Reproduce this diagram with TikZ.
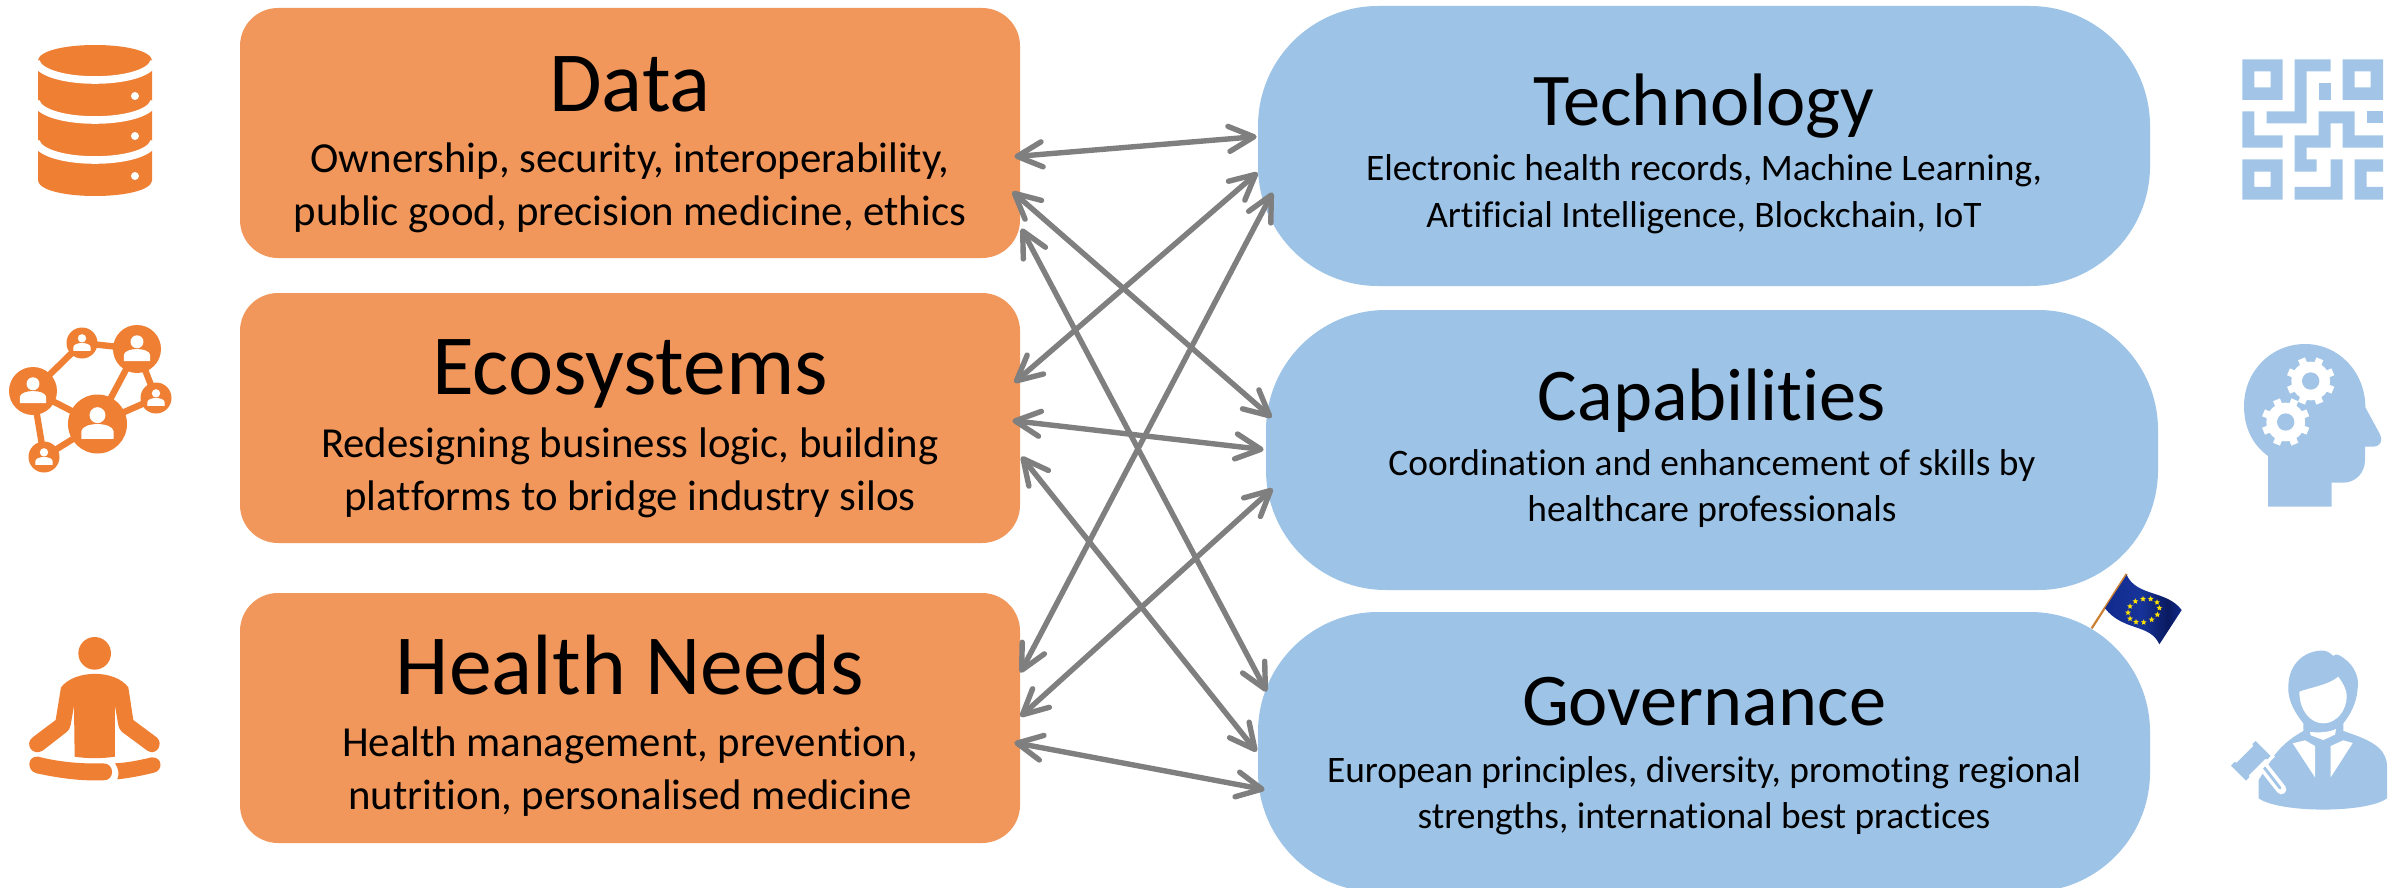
\documentclass[tikz,border=0pt]{standalone}
\usepackage{fontspec}
\setmainfont[Ligatures={NoCommon}]{Carlito}
\usetikzlibrary{arrows.meta,shapes.geometric}
\definecolor{boxorange}{HTML}{F2975B}
\definecolor{iconorange}{HTML}{EE7F33}
\definecolor{boxblue}{HTML}{9DC3E6}
\definecolor{iconblue}{HTML}{A2C5E7}
\definecolor{linkgray}{HTML}{7F7F7F}
\definecolor{flagA}{HTML}{112A8C}
\definecolor{flagB}{HTML}{17349A}
\definecolor{flagC}{HTML}{0A1A60}
\pgfdeclarehorizontalshading{flagshade}{100bp}{color(0bp)=(flagA);color(25bp)=(flagA);color(48bp)=(flagB);color(66bp)=(flagC);color(75bp)=(flagA);color(100bp)=(flagA)}
\tikzset{
  obox/.style={fill=boxorange,rounded corners=19pt,minimum width=390pt,minimum height=125pt,inner sep=0pt},
  bbox/.style={fill=boxblue,rounded corners=60pt,minimum width=446pt,minimum height=140pt,inner sep=0pt},
  otitle/.style={anchor=base,inner sep=0pt,font=\fontsize{42.8}{42.8}\selectfont},
  obody/.style={anchor=base,inner sep=0pt,font=\fontsize{21.4}{21.4}\selectfont},
  btitle/.style={anchor=base,inner sep=0pt,font=\fontsize{37.2}{37.2}\selectfont},
  bbody/.style={anchor=base,inner sep=0pt,font=\fontsize{18.7}{18.7}\selectfont},
  link/.style={draw=linkgray,line width=2.7pt,{Straight Barb[round,length=12.5pt,width=12.5pt]}-{Straight Barb[round,length=12.5pt,width=12.5pt]}},
}
\begin{document}
\begin{tikzpicture}[x=0.5pt,y=-0.5pt]
\clip (0,0) rectangle (2402,888);
% boxes
\node[obox] (data) at (630,133) {};
\node[obox] (eco) at (630,418) {};
\node[obox] (hn) at (630,718) {};
\node[bbox] (tech) at (1704,146) {};
\node[bbox] (cap) at (1712,450) {};
\node[bbox] (gov) at (1704,752) {};
% texts
\node[otitle] (t1) at (630,112) {Data};
\node[obody] (b1a) at (630,172) {Ownership, security, interoperability,};
\node[obody] (b1b) at (630,225) {public good, precision medicine, ethics};
\node[otitle] (t2) at (630,394) {Ecosystems};
\node[obody] (b2a) at (630,457) {Redesigning business logic, building};
\node[obody] (b2b) at (630,510) {platforms to bridge industry silos};
\node[otitle] (t3) at (630,694) {Health Needs};
\node[obody] (b3a) at (630,756) {Health management, prevention,};
\node[obody] (b3b) at (630,809) {nutrition, personalised medicine};
\node[btitle] (t4) at (1704,126) {Technology};
\node[bbody] (b4a) at (1704,180) {Electronic health records, Machine Learning,};
\node[bbody] (b4b) at (1704,227) {Artificial Intelligence, Blockchain, IoT};
\node[btitle] (t5) at (1712,420) {Capabilities};
\node[bbody] (b5a) at (1712,475) {Coordination and enhancement of skills by};
\node[bbody] (b5b) at (1712,521) {healthcare professionals};
\node[btitle] (t6) at (1704,725) {Governance};
\node[bbody] (b6a) at (1704,782) {European principles, diversity, promoting regional};
\node[bbody] (b6b) at (1704,828) {strengths, international best practices};
% connectors
\draw[link] ([shift={(-6,149)}]data.north east) -- ([shift={(-1,131)}]tech.north west);
\draw[link] ([shift={(-8,184)}]data.north east) -- ([shift={(6,108)}]cap.north west);
\draw[link] ([shift={(1,221)}]data.north east) -- ([shift={(9,80)}]gov.north west);
\draw[link] ([shift={(-6,90)}]eco.north east) -- ([shift={(0,167)}]tech.north west);
\draw[link] ([shift={(-8,128)}]eco.north east) -- ([shift={(-2,140)}]cap.north west);
\draw[link] ([shift={(1,164)}]eco.north east) -- ([shift={(-1,140)}]gov.north west);
\draw[link] ([shift={(0,80)}]hn.north east) -- ([shift={(15,187)}]tech.north west);
\draw[link] ([shift={(0,124)}]hn.north east) -- ([shift={(7,179)}]cap.north west);
\draw[link] ([shift={(-6,150)}]hn.north east) -- ([shift={(7,178)}]gov.north west);
% database icon
\fill[iconorange] (38,60) -- (38,181) .. controls (42,201) and (148,201) .. (152,181) -- (152,60) .. controls (148,40) and (42,40) .. (38,60) -- cycle;
\foreach \yy in {62,102,142}{
  \draw[white,line width=3.8pt] (36,{\yy}) .. controls (45,{\yy+24}) and (145,{\yy+24}) .. (154,{\yy});
}
\foreach \yy in {96,136,176}{\fill[white] (135,{\yy}) circle (4);}
% network icon
\foreach \ax/\ay/\bx/\by in {33/391/82/343,82/343/137/349,137/349/156/398,137/349/97/424,33/391/97/424,33/391/44/457,44/457/97/424,156/398/97/424}{
  \draw[iconorange,line width=3.2pt] (\ax,\ay) -- (\bx,\by);
}
\foreach \cx/\cy/\R in {97.5/424/29.5,137/349/24,33/391/24,82/343/15.5,156/398/15.5,44/457/15.5}{
  \fill[iconorange] (\cx,\cy) circle (\R);
  \fill[white] ({\cx},{\cy-0.3*\R}) circle ({0.27*\R});
  \fill[white] ({\cx-0.55*\R},{\cy+0.5*\R}) -- ({\cx-0.55*\R},{\cy+0.25*\R}) .. controls ({\cx-0.5*\R},{\cy-0.08*\R}) and ({\cx+0.5*\R},{\cy-0.08*\R}) .. ({\cx+0.55*\R},{\cy+0.25*\R}) -- ({\cx+0.55*\R},{\cy+0.5*\R}) -- cycle;
}
% meditating person
\begin{scope}[shift={(0,600)},scale=1/3]
\fill[iconorange] (284,160) circle (49);
\fill[iconorange] (183,262) .. controls (225,208) and (345,208) .. (385,262) -- (400,360) -- (470,412) .. controls (492,430) and (470,470) .. (442,452) -- (365,395) .. controls (358,388) and (357,382) .. (355,375) -- (345,318) -- (345,470) .. controls (305,476) and (262,476) .. (224,470) -- (222,318) -- (212,375) .. controls (210,385) and (206,392) .. (200,396) -- (128,452) .. controls (98,470) and (72,432) .. (98,412) -- (167,360) -- cycle;
\fill[iconorange] (115,470) .. controls (180,487) and (250,492) .. (310,490) .. controls (345,490) and (345,542) .. (310,541) .. controls (240,543) and (180,535) .. (110,520) .. controls (78,512) and (82,466) .. (115,470) -- cycle;
\fill[iconorange] (345,490) .. controls (385,488) and (420,480) .. (455,472) .. controls (488,470) and (490,512) .. (462,518) .. controls (425,527) and (390,534) .. (352,538) .. controls (358,522) and (356,505) .. (345,490) -- cycle;
\end{scope}
% QR icon
\begin{scope}[shift={(2180,40)},scale=1/3,even odd rule]
\fill[iconblue] (187,58) rectangle (308,180) (223,94) rectangle (272,142);
\fill[iconblue] (488,58) rectangle (609,180) (524,94) rectangle (572,142);
\fill[iconblue] (187,358) rectangle (308,479) (223,395) rectangle (272,441);
\fill[iconblue] (344,58) -- (452,58) -- (452,94) -- (380,94) -- (380,250) -- (260,250) -- (260,214) -- (344,214) -- cycle;
\fill[iconblue] (416,130) rectangle (452,179);
\fill[iconblue] (187,214) -- (223,214) -- (223,286) -- (308,286) -- (308,323) -- (187,323) -- cycle;
\fill[iconblue] (560,214) rectangle (609,250);
\fill[iconblue] (416,214) -- (524,214) -- (524,286) -- (609,286) -- (609,323) -- (488,323) -- (488,250) -- (452,250) -- (452,323) -- (380,323) -- (380,358) -- (410,358) -- (410,395) -- (344,395) -- (344,286) -- (416,286) -- cycle;
\fill[iconblue] (452,358) -- (488,358) -- (488,479) -- (344,479) -- (344,441) -- (452,441) -- cycle;
\fill[iconblue] (524,358) -- (609,358) -- (609,395) -- (560,395) -- (560,441) -- (609,441) -- (609,479) -- (524,479) -- cycle;
\end{scope}
% head icon
\begin{scope}[shift={(2180,320)},scale=1/3]
\fill[iconblue] (264,560) -- (264,408) .. controls (215,372) and (192,320) .. (192,258) .. controls (192,155) and (272,72) .. (375,72) .. controls (475,72) and (556,155) .. (556,262) -- (600,343) .. controls (610,360) and (600,380) .. (582,380) -- (555,380) -- (555,420) .. controls (555,460) and (525,488) .. (490,488) -- (455,488) -- (455,560) -- cycle;
\foreach \gx/\gy in {392/183,317/306}{
  \fill[white] (\gx,\gy) circle (58);
  \foreach \aa in {0,45,...,315}{
    \draw[white,line width=3.7pt] (\gx,\gy) -- ++(\aa+22.5:72);
  }
}
\fill[iconblue] (392,183) circle (26) (317,306) circle (26);
\end{scope}
% flag and judge icon
\begin{scope}[shift={(2060,560)},scale=1/3]
\draw[draw=brown!80!orange,line width=1.1pt] (95,205) -- (200,42);
\shade[shading=flagshade] (200,45) .. controls (230,110) and (320,90) .. (365,150) -- (298,253) .. controls (270,190) and (190,215) .. (135,145) -- cycle;
\foreach \sx/\sy [count=\i] in {226/124,249/117,272/117,291/127,298/144,292/164,275/179,251/187,228/186,210/176,204/158,210/139}{
  \node[star,star points=5,star point ratio=2.2,fill=yellow!85!orange,minimum size=3pt,inner sep=0pt] (st\i) at (\sx,\sy) {};
}
% body
\fill[iconblue] (730,490) .. controls (695,445) and (680,410) .. (686,365) .. controls (692,305) and (740,270) .. (790,272) .. controls (800,272) and (812,280) .. (820,288) .. controls (825,283) and (830,282) .. (836,285) .. controls (875,305) and (900,345) .. (893,385) .. controls (890,430) and (870,465) .. (850,490) -- (850,513) .. controls (900,530) and (960,550) .. (975,590) .. controls (980,600) and (981,610) .. (981,620) -- (981,715) .. controls (920,760) and (660,760) .. (596,715) -- (596,660) -- (640,590) .. controls (670,550) and (700,530) .. (730,513) -- cycle;
\fill[white] (718,395) .. controls (760,380) and (805,375) .. (835,350) .. controls (848,370) and (860,385) .. (860,410) .. controls (860,450) and (830,490) .. (790,490) .. controls (750,490) and (718,450) .. (718,395) -- cycle;
\fill[white] (750,516) .. controls (775,518) and (805,518) .. (828,507) -- (825,524) -- (790,540) -- (752,526) -- cycle;
\fill[white] (698,550) -- (735,541) -- (765,558) -- (765,652) -- cycle;
\fill[white] (812,558) -- (850,541) -- (878,549) -- (812,652) -- cycle;
% gavel
\draw[white,line width=5pt,line cap=round] (612,622) -- (664,688);
\draw[iconblue,line width=1.4pt,line cap=round] (612,622) -- (660,684);
\fill[white] (500,617) -- (587,530) -- (645,590) -- (558,675) -- cycle;
\fill[iconblue] (513,617) -- (524,606) -- (530,608) -- (580,558) -- (577,552) -- (587,543) -- (632,588) -- (622,598) -- (616,596) -- (566,646) -- (568,652) -- (558,662) -- cycle;
\end{scope}
\end{tikzpicture}
\end{document}
